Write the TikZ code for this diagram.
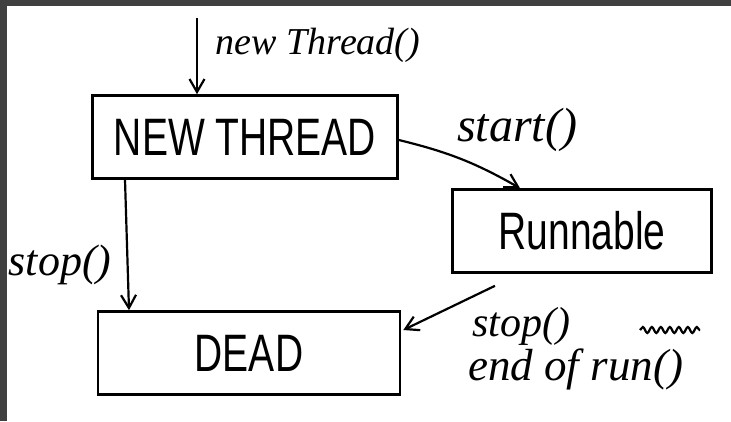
\documentclass[tikz,border=0pt]{standalone}
\usepackage{fontspec}
\setmainfont{Liberation Serif}
\setsansfont{Liberation Sans}
\usetikzlibrary{arrows.meta,decorations.pathmorphing}
\begin{document}
\begin{tikzpicture}[x=1pt,y=-1pt,
  state/.style={draw,line width=2.6pt,minimum width=#1,minimum height=83pt,inner sep=0pt,font=\sffamily\fontsize{39}{40}\selectfont},
  conn/.style={line width=2.2pt,-{Straight Barb[length=13pt,width=15pt,line width=2.2pt]}},
  lab/.style={font=\itshape\fontsize{#1}{#1}\selectfont,inner sep=0pt}]
\useasboundingbox (0,0) rectangle (731,421);
\fill[black!75] (0,0) rectangle (731,421);
\fill[white] (7,6) rectangle (731,421);
\node[state=305pt] (new) at (245,137) {\scalebox{1}[1.35]{NEW THREAD}};
\node[state=259pt] (run) at (582,231) {\scalebox{1}[1.35]{Runnable}};
\node[state=302pt] (dead) at (249,353) {\scalebox{1}[1.35]{DEAD}};
\coordinate (nt) at (197,18);
\draw[conn] (nt) -- ([xshift=-48pt]new.north);
\node[lab=38] (lnt) at (318,45) {new Thread()};
\draw[conn] ([yshift=-3pt]new.east) to[bend left=8] ([xshift=-62pt]run.north);
\node[lab=48] (lst) at (517,130) {start()};
\draw[conn] ([xshift=-120pt]new.south) -- ([xshift=-120pt]dead.north);
\node[lab=44] (ls1) at (60,265) {stop()};
\draw[conn] ([xshift=-87pt,yshift=-12pt]run.south) -- ([yshift=23pt,xshift=2pt]dead.east);
\node[lab=42,anchor=base west] (ls2) at (472,336) {stop()};
\node[lab=45,anchor=base west] (ler) at (468,380) {end of run()};
\draw[line width=2.2pt,decorate,decoration={snake,amplitude=3pt,segment length=9pt}] (640,330) -- (700,330);
\end{tikzpicture}
\end{document}
